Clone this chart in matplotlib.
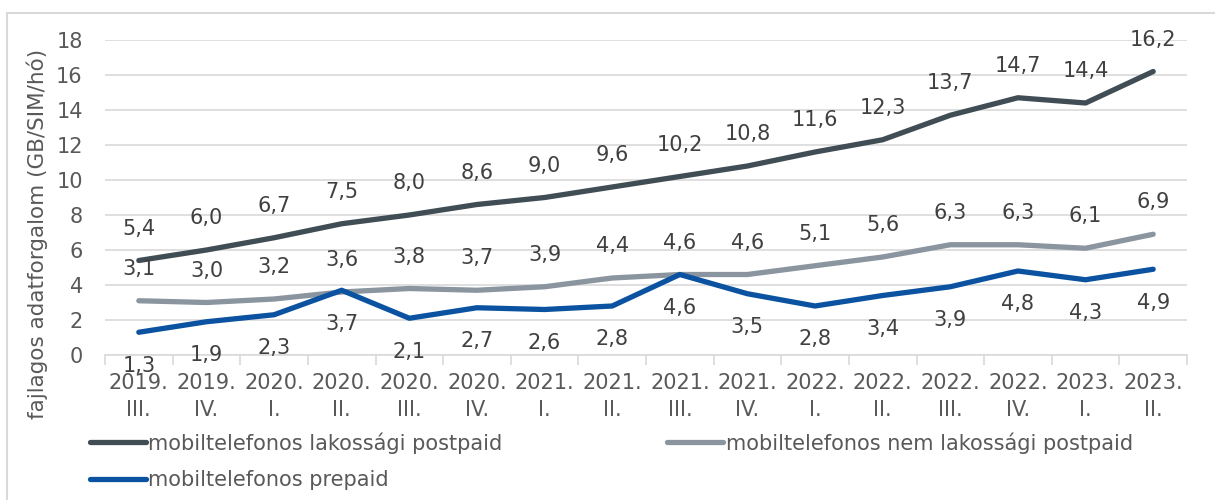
import matplotlib.pyplot as plt
import numpy as np
from matplotlib.lines import Line2D

plt.rcParams['font.family'] = ['DejaVu Sans']

years = ['2019.', '2019.', '2020.', '2020.', '2020.', '2020.', '2021.', '2021.',
         '2021.', '2021.', '2022.', '2022.', '2022.', '2022.', '2023.', '2023.']
quarters = ['III.', 'IV.', 'I.', 'II.', 'III.', 'IV.', 'I.', 'II.',
            'III.', 'IV.', 'I.', 'II.', 'III.', 'IV.', 'I.', 'II.']

lak_postpaid = [5.4, 6.0, 6.7, 7.5, 8.0, 8.6, 9.0, 9.6, 10.2, 10.8, 11.6, 12.3, 13.7, 14.7, 14.4, 16.2]
nem_lak_postpaid = [3.1, 3.0, 3.2, 3.6, 3.8, 3.7, 3.9, 4.4, 4.6, 4.6, 5.1, 5.6, 6.3, 6.3, 6.1, 6.9]
prepaid = [1.3, 1.9, 2.3, 3.7, 2.1, 2.7, 2.6, 2.8, 4.6, 3.5, 2.8, 3.4, 3.9, 4.8, 4.3, 4.9]

names = ['mobiltelefonos lakossági postpaid',
         'mobiltelefonos nem lakossági postpaid',
         'mobiltelefonos prepaid']

c_dark = '#404D55'
c_gray = '#8A95A0'
c_blue = '#0B52A0'
txt = '#404040'
tick_c = '#595959'
fs = 15

fig = plt.figure(figsize=(12.15, 5), dpi=100)
ax = fig.add_axes([105 / 1215, 1 - 355 / 500, (1187 - 105) / 1215, (355 - 40) / 500])

x = np.arange(len(years))
series = [(lak_postpaid, c_dark, 23), (nem_lak_postpaid, c_gray, 23), (prepaid, c_blue, -24)]
handles = []
for (vals, col, off), name in zip(series, names):
    ln, = ax.plot(x, vals, color=col, lw=3.8, solid_capstyle='round', solid_joinstyle='round', label=name)
    handles.append(ln)
    for xi, v in zip(x, vals):
        ax.annotate(f'{v:.1f}'.replace('.', ','), (xi, v), xytext=(0, off), textcoords='offset points',
                    ha='center', va='center', fontsize=fs, color=txt, zorder=5)

ax.set_xlim(-0.5, len(years) - 0.5)
ax.set_ylim(0, 18)
ax.set_yticks(range(0, 19, 2))
ax.set_xticks(x)
ax.set_xticklabels([f'{a}\n{b}' for a, b in zip(years, quarters)], linespacing=1.45)
ax.set_xticks(np.arange(-0.5, len(years), 1), minor=True)
ax.tick_params(axis='x', which='major', length=0, pad=13, labelsize=fs, labelcolor=tick_c)
ax.tick_params(axis='x', which='minor', length=7, color='#D9D9D9', width=1.2)
ax.tick_params(axis='y', length=0, pad=16, labelsize=fs, labelcolor=tick_c)
ax.grid(axis='y', color='#D9D9D9', lw=1.2)
ax.set_axisbelow(True)
for s in ['left', 'right', 'top']:
    ax.spines[s].set_visible(False)
ax.spines['bottom'].set_color('#D9D9D9')
ax.spines['bottom'].set_linewidth(1.2)

fig.text(37 / 1215, 1 - 234 / 500, 'fajlagos adatforgalom (GB/SIM/hó)', rotation=90,
         ha='center', va='center', fontsize=15.5, color=tick_c)

leg = fig.legend([handles[0], handles[2], handles[1]], [names[0], names[2], names[1]],
                 ncol=2, loc='upper left', bbox_to_anchor=(90 / 1215, 1 - 432 / 500),
                 frameon=False, fontsize=fs, handlelength=2.7, handletextpad=0.1,
                 labelspacing=0.8, columnspacing=7.9, borderpad=0, borderaxespad=0)
for t in leg.get_texts():
    t.set_color(tick_c)

# light frame around chart
fig.add_artist(Line2D([7 / 1215, 1], [1 - 13 / 500, 1 - 13 / 500], color='#D9D9D9', lw=1.5))
fig.add_artist(Line2D([7 / 1215, 7 / 1215], [0, 1 - 13 / 500], color='#D9D9D9', lw=1.5))

fig.savefig('out.png', dpi=100)
